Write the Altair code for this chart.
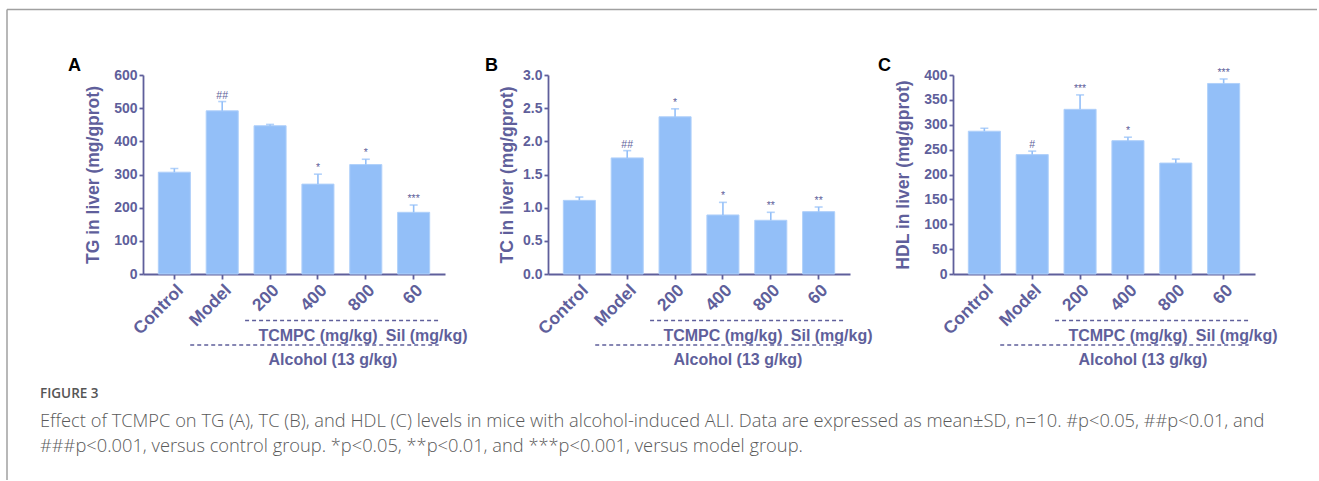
import altair as alt
import pandas as pd

# ---------------- data ----------------
categories = ["Control", "Model", "200", "400", "800", "60"]

tg_mean = [307, 492, 447, 271, 330, 186]
tg_sd = [11, 28, 4, 30, 16, 22]
tg_sig = ["", "##", "", "*", "*", "***"]
tg_ticks = [0, 100, 200, 300, 400, 500, 600]

tc_mean = [1.11, 1.75, 2.37, 0.89, 0.81, 0.94]
tc_sd = [0.05, 0.11, 0.12, 0.19, 0.12, 0.07]
tc_sig = ["", "##", "*", "*", "**", "**"]
tc_ticks = [0.0, 0.5, 1.0, 1.5, 2.0, 2.5, 3.0]

hdl_mean = [287, 240, 331, 268, 223, 383]
hdl_sd = [6, 7, 29, 7, 8, 9]
hdl_sig = ["", "#", "***", "*", "", "***"]
hdl_ticks = [0, 50, 100, 150, 200, 250, 300, 350, 400]

y_titles = ["TG in liver (mg/gprot)", "TC in liver (mg/gprot)", "HDL in liver (mg/gprot)"]
panel_letters = ["A", "B", "C"]
group_tcmpc = "TCMPC (mg/kg)"
group_sil = "Sil (mg/kg)"
group_alcohol = "Alcohol (13 g/kg)"

caption_head = "FIGURE 3"
caption_lines = [
    "Effect of TCMPC on TG (A), TC (B), and HDL (C) levels in mice with alcohol-induced ALI. Data are expressed as mean\u00b1SD, n=10. #p<0.05, ##p<0.01, and",
    "###p<0.001, versus control group. *p<0.05, **p<0.01, and ***p<0.001, versus model group.",
]

# ---------------- style ----------------
W, H = 302, 199
SLATE = "#5F5F9B"
BAR = "#93BFF8"
BAR_EDGE = "#B0D0FA"
FONT = "Liberation Sans"
ONE = alt.InlineData(values=[{"k": 1}])


def panel(means, sds, sigs, title, ticks, fmt, letter, letter_x, title_x, extra=()):
    df = pd.DataFrame({
        "cat": categories,
        "mean": means,
        "upper": [m + s for m, s in zip(means, sds)],
        "sig": sigs,
    })
    xscale = alt.Scale(domain=categories, paddingInner=0.33, paddingOuter=0.32)
    x = alt.X("cat:N", scale=xscale, sort=categories,
              axis=alt.Axis(title=None, labelAngle=-45, labelFontSize=17.5,
                            labelFontWeight="bold", labelColor=SLATE, labelFont=FONT,
                            labelOverlap=False,
                            domainColor=SLATE, domainWidth=1.8, tickColor=SLATE,
                            tickWidth=1.8, tickSize=5, labelPadding=2))
    yscale = alt.Scale(domain=[ticks[0], ticks[-1]], nice=False, zero=True)
    yaxis = alt.Axis(title=title, values=ticks, tickCount=len(ticks) + 1, format=fmt,
                     grid=False, labelOverlap=False, labelFlush=False,
                     labelFontSize=14, labelFontWeight="bold", labelColor=SLATE,
                     labelFont=FONT, labelPadding=2,
                     domainColor=SLATE, domainWidth=1.8, tickColor=SLATE,
                     tickWidth=1.8, tickSize=4,
                     titleFont=FONT, titleFontSize=17.5, titleFontWeight="bold",
                     titleColor=SLATE, titleX=title_x, titleBaseline="middle")
    base = alt.Chart(df)
    bars = base.mark_bar(fill=BAR, stroke=BAR_EDGE, strokeWidth=1).encode(
        x=x, y=alt.Y("mean:Q", scale=yscale, axis=yaxis, title=title))
    err = base.mark_rule(color=BAR, strokeWidth=1.6).encode(
        x=x, y=alt.Y("mean:Q", scale=yscale, axis=yaxis, title=title), y2="upper:Q")
    cap = base.mark_tick(color=BAR, thickness=1.6, size=8, orient="horizontal").encode(
        x=x, y=alt.Y("upper:Q", scale=yscale, axis=yaxis, title=title))
    sig = base.mark_text(font=FONT, fontSize=10.5, color=SLATE, baseline="bottom", dy=-1).encode(
        x=x, y=alt.Y("upper:Q", scale=yscale, axis=yaxis, title=title), text="sig:N")

    rng = pd.DataFrame({"cat": ["200", "Model"], "cat2": ["60", "60"]})
    upper_line = alt.Chart(rng.iloc[[0]]).mark_rule(
        color=SLATE, strokeWidth=1.5, strokeDash=[4, 3], xOffset=-25, x2Offset=25).encode(
        x=x, x2="cat2:N", y=alt.value(245.5))
    lower_line = alt.Chart(rng.iloc[[1]]).mark_rule(
        color=SLATE, strokeWidth=1.5, strokeDash=[4, 3], xOffset=-32, x2Offset=25).encode(
        x=x, x2="cat2:N", y=alt.value(270))

    lab = pd.DataFrame({"cat": ["400", "60", "400"],
                        "label": [group_tcmpc, group_sil, group_alcohol]})
    t1 = alt.Chart(lab.iloc[[0]]).mark_text(font=FONT, fontSize=16, fontWeight="bold",
                                             color=SLATE, baseline="middle", dx=0).encode(
        x=x, y=alt.value(260.5), text="label:N")
    t2 = alt.Chart(lab.iloc[[1]]).mark_text(font=FONT, fontSize=16, fontWeight="bold",
                                             color=SLATE, baseline="middle", dx=13).encode(
        x=x, y=alt.value(260.5), text="label:N")
    t3 = alt.Chart(lab.iloc[[2]]).mark_text(font=FONT, fontSize=16, fontWeight="bold",
                                             color=SLATE, baseline="middle", dx=15).encode(
        x=x, y=alt.value(285), text="label:N")

    let = alt.Chart(ONE).mark_text(font=FONT, fontSize=18, fontWeight="bold", color="#000000",
                                   align="left", baseline="alphabetic", text=letter).encode(
        x=alt.value(letter_x), y=alt.value(-4.5))

    layers = [bars, err, cap, sig, upper_line, lower_line, t1, t2, t3, let] + list(extra)
    return alt.layer(*layers).properties(width=W, height=H)


# frame and caption (drawn with panel A)
frame_top = alt.Chart(ONE).mark_rule(color="#A0A0A0", strokeWidth=1.5).encode(
    x=alt.value(-136), x2=alt.value(1174), y=alt.value(-65.5))
frame_left = alt.Chart(ONE).mark_rule(color="#A0A0A0", strokeWidth=1.5).encode(
    x=alt.value(-136), y=alt.value(-65.5), y2=alt.value(405))
cap_head = alt.Chart(ONE).mark_text(font="Open Sans", fontSize=13.5, fontWeight=600,
                                    color="#555555", align="left", baseline="middle",
                                    text=caption_head).encode(
    x=alt.value(-103), y=alt.value(319))
cap_l1 = alt.Chart(ONE).mark_text(font="Open Sans", fontSize=18.3, fontWeight=300,
                                  color="#5A5A5A", align="left", baseline="middle",
                                  text=caption_lines[0]).encode(
    x=alt.value(-103), y=alt.value(347))
cap_l2 = alt.Chart(ONE).mark_text(font="Open Sans", fontSize=18.3, fontWeight=300,
                                  color="#5A5A5A", align="left", baseline="middle",
                                  text=caption_lines[1]).encode(
    x=alt.value(-103), y=alt.value(372))

pA = panel(tg_mean, tg_sd, tg_sig, y_titles[0], tg_ticks, "d", panel_letters[0], -75, -50,
           extra=(frame_top, frame_left, cap_head, cap_l1, cap_l2))
pB = panel(tc_mean, tc_sd, tc_sig, y_titles[1], tc_ticks, ".1f", panel_letters[1], -63, -41)
pC = panel(hdl_mean, hdl_sd, hdl_sig, y_titles[2], hdl_ticks, "d", panel_letters[2], -75, -50)

chart = alt.hconcat(pA, pB, pC, spacing=103, bounds="flush").properties(
    padding={"left": 6, "top": 8, "right": 0, "bottom": 0}
).configure_view(strokeWidth=0)

chart.save("out.html", embed_options={"renderer": "svg", "actions": False})
